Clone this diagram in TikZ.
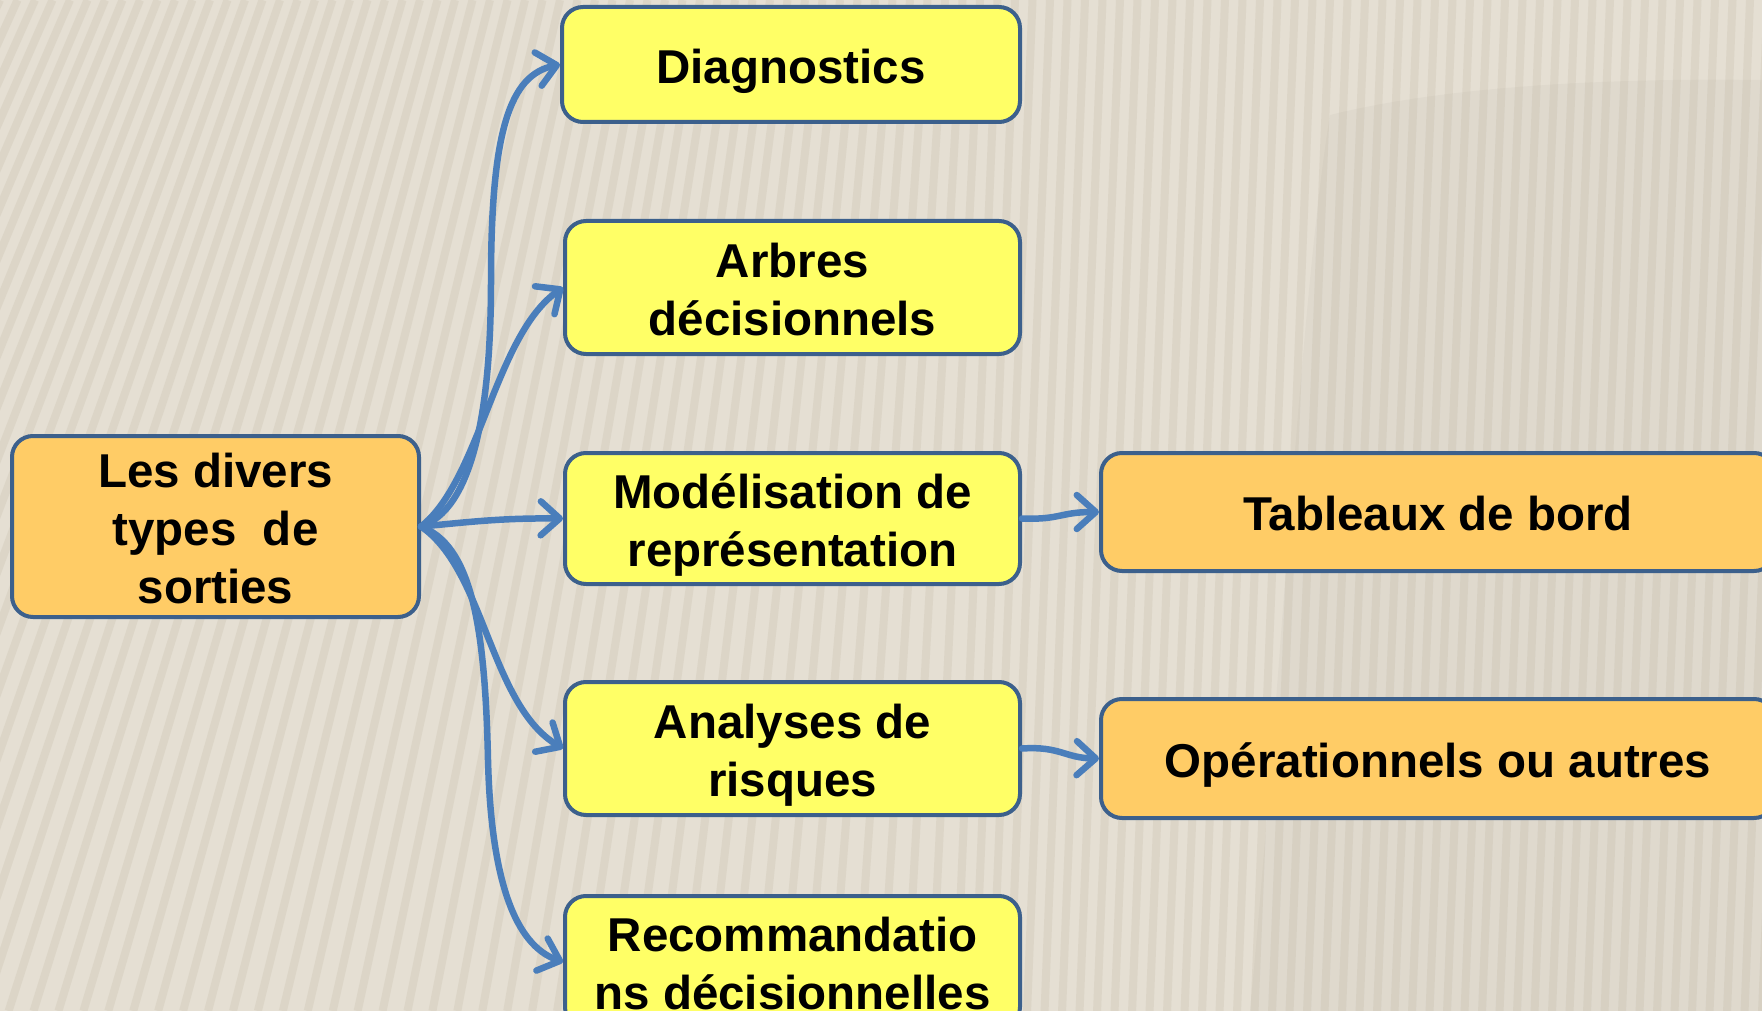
\documentclass[tikz,border=0pt]{standalone}
\usepackage{fontspec}
\setmainfont{Liberation Sans}
\usetikzlibrary{arrows.meta}
\definecolor{bgcol}{RGB}{229,223,211}
\definecolor{stripecol}{RGB}{200,192,172}
\definecolor{bordercol}{RGB}{60,96,140}
\definecolor{arrowcol}{RGB}{74,126,187}
\definecolor{yellowfill}{RGB}{255,255,102}
\definecolor{orangefill}{RGB}{255,204,102}
\newcommand\lowtext[1]{\raisebox{-7pt}[\height][\depth]{\begin{tabular}{@{}c@{}}#1\end{tabular}}}
\tikzset{
  boxbase/.style={draw=bordercol, line width=4pt, rounded corners=21pt, inner sep=0pt,
    font=\bfseries\fontsize{47.5}{58}\selectfont, text=black},
  ybox/.style={boxbase, fill=yellowfill},
  obox/.style={boxbase, fill=orangefill},
  conn/.style={draw=arrowcol, line width=6.5pt, line cap=round, line join=round,
    -{Straight Barb[length=19pt,width=34pt,round]}},
}
\begin{document}
\begin{tikzpicture}[x=1pt,y=-1pt]
\useasboundingbox (0,0) rectangle (1762,1011);
\clip (0,0) rectangle (1762,1011);
\fill[bgcol] (0,0) rectangle (1762,1011);
% stripes
\foreach \i in {0,...,105}{
  \pgfmathsetmacro{\xo}{\i*17.5}
  \pgfmathsetmacro{\sl}{max(0.04,0.46-0.42*\xo/1000)}
  \draw[stripecol, line width=8pt, opacity=0.3] (\xo,0) -- ({\xo-\sl*1011},1011);
}
% faint shadow region upper right
\fill[black!60!stripecol, opacity=0.035] (1330,115) .. controls (1450,85) and (1620,78) .. (1762,80) -- (1762,1011) -- (1250,1011) .. controls (1280,700) and (1300,300) .. cycle;

% nodes
\node[obox, minimum width=407pt, minimum height=181pt] (src) at (215.5,526.5) {\lowtext{Les divers\\types\ \ de\\sorties}};
\node[ybox, minimum width=458pt, minimum height=115pt] (d1) at (791,64.5) {\lowtext{Diagnostics}};
\node[ybox, minimum width=455pt, minimum height=133pt] (d2) at (792.5,287.5) {\lowtext{Arbres\\décisionnels}};
\node[ybox, minimum width=455pt, minimum height=131pt] (d3) at (792.5,518.5) {\lowtext{Modélisation de\\représentation}};
\node[ybox, minimum width=455pt, minimum height=133pt] (d4) at (792.5,748.5) {\lowtext{Analyses de\\risques}};
\node[ybox, minimum width=455pt, minimum height=132pt] (d5) at (792.5,962) {\lowtext{Recommandatio\\ns décisionnelles}};
\node[obox, minimum width=674pt, minimum height=118pt] (t1) at (1438,512) {\lowtext{Tableaux de bord}};
\node[obox, minimum width=674pt, minimum height=119pt] (t2) at (1438,758.5) {\lowtext{Opérationnels ou autres}};

% connectors
\draw[conn] (src.east) .. controls (470,510) and (491,420) .. (491,281) .. controls (491,130) and (510,75) .. (d1.west);
\draw[conn] (src.east) .. controls (480,480) and (495,335) .. (d2.west);
\draw[conn] (src.east) .. controls (470,522) and (500,518) .. (d3.west);
\draw[conn] (src.east) .. controls (485,570) and (490,705) .. (d4.west);
\draw[conn] (src.east) .. controls (470,545) and (485,620) .. (488,760) .. controls (491,880) and (515,945) .. (d5.west);
\draw[conn] (d3.east) .. controls (1060,520) and (1060,512) .. (t1.west);
\draw[conn] (d4.east) .. controls (1060,746) and (1065,758) .. (t2.west);
\end{tikzpicture}
\end{document}
